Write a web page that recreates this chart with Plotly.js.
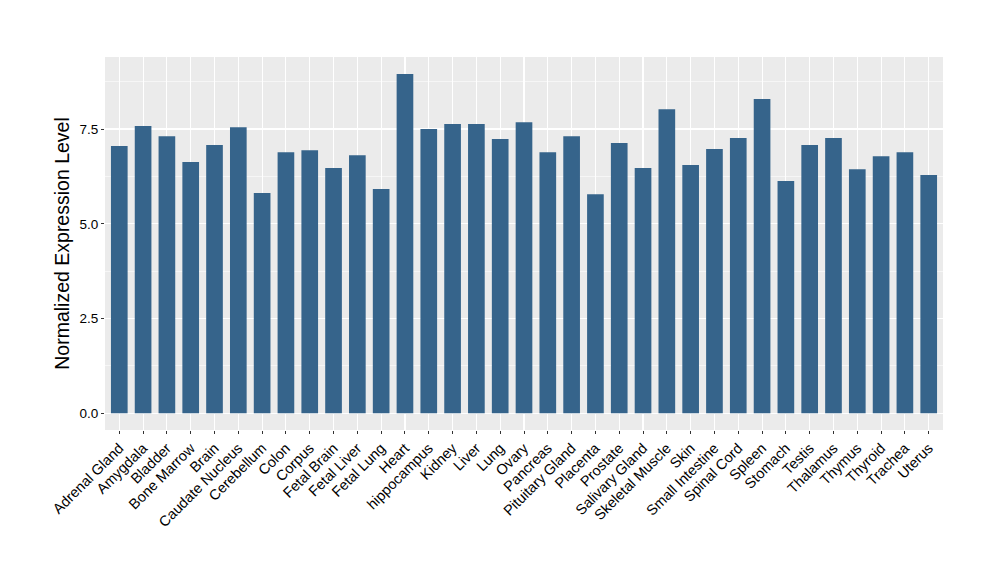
<!DOCTYPE html>
<html>
<head>
<meta charset="utf-8">
<script src="https://cdn.plot.ly/plotly-3.0.1.min.js"></script>
<style>html,body{margin:0;padding:0;background:#fff;}#chart{width:1000px;height:580px;}</style>
</head>
<body>
<div id="chart"></div>
<script>
const tissues = ["Adrenal Gland","Amygdala","Bladder","Bone Marrow","Brain","Caudate Nucleus","Cerebellum","Colon","Corpus","Fetal Brain","Fetal Liver","Fetal Lung","Heart","hippocampus","Kidney","Liver","Lung","Ovary","Pancreas","Pituitary Gland","Placenta","Prostate","Salivary Gland","Skeletal Muscle","Skin","Small Intestine","Spinal Cord","Spleen","Stomach","Testis","Thalamus","Thymus","Thyroid","Trachea","Uterus"];
const expression = [7.05,7.58,7.31,6.63,7.08,7.55,5.81,6.89,6.94,6.47,6.81,5.92,8.95,7.50,7.63,7.63,7.24,7.68,6.89,7.31,5.78,7.13,6.47,8.02,6.55,6.97,7.26,8.29,6.13,7.08,7.26,6.44,6.78,6.89,6.29];
const yTickVals = [0, 2.5, 5, 7.5];
const yTickText = ["0.0","2.5","5.0","7.5"];

const trace = {
  type: 'bar',
  x: tissues,
  y: expression,
  marker: {color: '#36648B', line: {width: 0}},
  hoverinfo: 'x+y'
};

const layout = {
  width: 1000, height: 580,
  margin: {l: 105, r: 57, t: 57, b: 150, pad: 0},
  paper_bgcolor: '#FFFFFF',
  plot_bgcolor: '#EBEBEB',
  bargap: 0.3,
  showlegend: false,
  font: {family: '"Liberation Sans", Arial, sans-serif', color: '#000000'},
  xaxis: {
    type: 'category',
    range: [-0.6, tissues.length - 0.4],
    tickangle: -45,
    tickfont: {size: 14.5, color: '#000000'},
    ticks: 'outside', ticklen: 3, tickwidth: 1, tickcolor: '#333333',
    showgrid: true, gridcolor: '#FFFFFF', gridwidth: 1.1,
    zeroline: false, showline: false,
    automargin: false, fixedrange: true
  },
  yaxis: {
    range: [-0.44, 9.40],
    tickvals: yTickVals,
    ticktext: yTickText,
    tickfont: {size: 13.5, color: '#000000'},
    ticks: 'outside', ticklen: 3, tickwidth: 1, tickcolor: '#333333',
    showgrid: true, gridcolor: '#FFFFFF', gridwidth: 1.1,
    minor: {tick0: 0, dtick: 1.25, showgrid: true, gridcolor: '#FFFFFF', gridwidth: 0.55, ticks: ''},
    zeroline: false, showline: false,
    title: {text: 'Normalized Expression Level', font: {size: 19.5, color: '#000000'}, standoff: 4},
    automargin: false, fixedrange: true
  }
};

Plotly.newPlot('chart', [trace], layout, {displayModeBar: false, staticPlot: true});
</script>
</body>
</html>
